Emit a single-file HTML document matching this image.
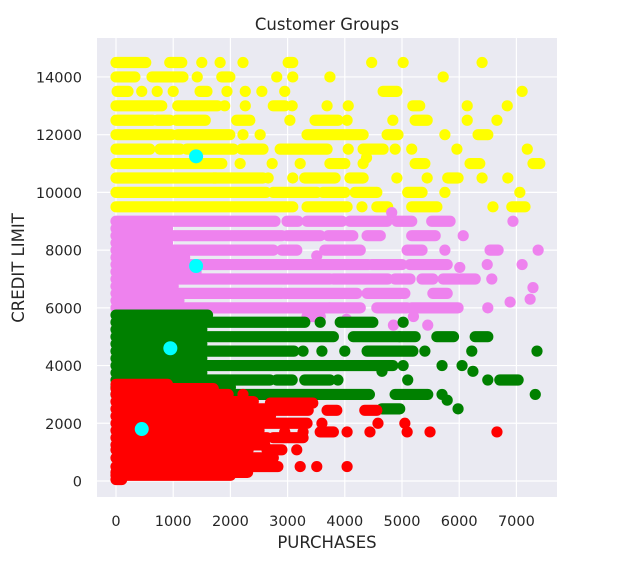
<!DOCTYPE html>
<html><head><meta charset="utf-8"><style>
html,body{margin:0;padding:0;background:#fff;}
svg text{font-family:"DejaVu Sans","Liberation Sans",sans-serif;fill:#262626;}
</style></head><body>
<svg id="chart" width="625" height="566">
<rect x="97" y="38" width="460" height="459" fill="#eaeaf2"/>
<g id="grid"></g>
<g id="marks"></g>
<g id="ticks"></g>
<text x="327" y="30" text-anchor="middle" font-size="16.5">Customer Groups</text>
<text x="327" y="548" text-anchor="middle" font-size="16.5">PURCHASES</text>
<text x="24" y="268" text-anchor="middle" font-size="16.5" transform="rotate(-90 24 268)">CREDIT LIMIT</text>
</svg>
<script>
const xTicks=[0,1000,2000,3000,4000,5000,6000,7000];
const yTicks=[0,2000,4000,6000,8000,10000,12000,14000];
// segments: [credit, purchaseMin, purchaseMax]; min==max is a single customer point
const yellowSegs=[
[14500,0,520],[14500,940,1150],[14500,1500,1500],[14500,1820,1820],[14500,2220,2220],[14500,3010,3090],[14500,4470,4470],[14500,5020,5020],[14500,6400,6400],
[14000,0,330],[14000,630,1170],[14000,1420,1420],[14000,1850,1990],[14000,2810,2810],[14000,3090,3090],[14000,3740,3740],[14000,5720,5720],
[13500,20,210],[13500,450,450],[13500,720,720],[13500,1000,1000],[13500,1470,1590],[13500,1940,1940],[13500,2260,2260],[13500,2550,2550],[13500,2950,2950],[13500,4670,4910],[13500,7100,7100],
[13000,0,800],[13000,1080,1770],[13000,1900,1900],[13000,2260,2260],[13000,2750,2950],[13000,3080,3080],[13000,3690,3690],[13000,4060,4060],[13000,5190,5310],[13000,6140,6140],[13000,6840,6840],
[12500,0,640],[12500,720,940],[12500,1060,1560],[12500,2110,2340],[12500,3040,3040],[12500,3480,3880],[12500,4040,4040],[12500,4840,4840],[12500,5230,5440],[12500,6140,6140],[12500,6660,6660],
[12000,0,970],[12000,1080,1990],[12000,2220,2220],[12000,2520,2520],[12000,3340,4320],[12000,4740,4930],[12000,5750,5750],[12000,6330,6500],
[11500,0,590],[11500,770,1120],[11500,1240,2050],[11500,2200,2570],[11500,2870,3690],[11500,4060,4060],[11500,4320,4670],[11500,4880,4880],[11500,5170,5170],[11500,5960,5960],[11500,7190,7190],
[11000,0,1850],[11000,2170,2170],[11000,2730,2730],[11000,3220,3220],[11000,3740,4000],[11000,4320,4320],[11200,4380,4380],[11000,5230,5400],[11000,6190,6360],[11000,7290,7410],
[10500,0,1750],[10500,1700,2570],[10500,2660,2660],[10500,3090,3090],[10500,3300,3830],[10500,4090,4320],[10500,4910,4910],[10500,5440,5440],[10500,5800,5980],[10500,6400,6400],[10500,6850,6850],
[10000,0,2620],[10000,2750,3510],[10000,3620,4000],[10000,4180,4560],[10000,5100,5350],[10000,5750,5750],[10000,7060,7060],
[9500,0,3090],[9500,3340,4040],[9500,4300,4300],[9500,4560,4750],[9500,5170,5610],[9500,6590,6590],[9500,6920,7150]];
const violetSegs=[
[9000,0,2780],[9000,2990,3180],[9000,3340,3950],[9000,4090,4740],[9300,4820,4820],[9000,4910,5170],[9000,5520,5840],[9000,6940,6940],
[8750,0,900],
[8500,0,2900],[8500,2990,3570],[8500,3710,4140],[8500,4390,4620],[8500,5170,5580],[8500,6070,6070],
[8250,0,900],
[8000,0,2750],[8000,2900,3160],[7800,3510,3510],[8000,3650,4270],[8000,5090,5350],[8000,5750,5750],[8000,6540,6680],[8000,7380,7380],
[7750,0,1200],
[7500,0,4410],[7500,4470,5000],[7500,5140,5790],[7400,6010,6010],[7500,6490,6490],[7500,7100,7100],
[7250,0,1400],
[7000,0,3740],[7000,3800,4750],[7000,4880,5140],[7000,5350,5540],[7000,5720,6280],[7000,6570,6570],[6700,7290,7290],
[6750,0,1000],
[6500,0,2900],[6500,2950,4210],[6500,4390,5050],[6500,5540,5790],
[6250,0,1100],
[6000,0,3720],[6000,3740,4270],[6000,4560,5090],[6000,5170,5980],[6000,6500,6500],[6200,6890,6890],[6300,7240,7240],
[5700,3340,3570],[5600,4030,4030],[5400,4850,4850],[5700,5200,5200],[5400,5450,5450]];
const greenSegs=[
[5750,0,1600],
[5500,0,3300],[5500,3570,3570],[5500,3920,4490],[5500,5020,5020],
[5250,0,1500],
[5000,0,3800],[5000,4150,4950],[5000,4960,5230],[5000,5610,5900],[5000,6280,6500],
[4750,0,1500],
[4500,0,3110],[4500,3270,3270],[4500,3600,3600],[4500,4000,4000],[4500,4390,5190],[4500,5400,5400],[4500,6220,6220],[4500,7360,7360],
[4250,0,1500],
[4000,0,4840],[4000,5020,5020],[4000,5700,5700],[4000,6050,6050],[3800,6240,6240],[3800,4650,4650],
[3750,0,1500],
[3500,0,2690],[3500,2810,3080],[3500,3300,3740],[3500,3880,3880],[3500,5100,5100],[3500,6500,6500],[3500,6710,7030],
[3250,0,2000],
[3000,0,4430],[3000,4880,5450],[3000,5700,5700],[2800,5790,5790],[3000,7330,7330],
[2500,4650,4960],[2500,5980,5980]];
const redSegs=[
[3350,0,900],[3200,0,1700],[3000,0,1960],[3000,2220,2220],[2750,0,2400],[2700,2700,3440],[2500,0,2600],[2450,2700,3360],[2450,3690,3860],[2450,4350,4560],
[2250,0,2700],[2000,0,3340],[2000,3600,3600],[2000,4580,4580],[2000,5050,5050],
[1750,0,2500],[1700,2950,2950],[1700,3270,3270],[1700,3570,3800],[1700,4040,4040],[1700,4440,4440],[1700,5090,5090],[1700,5490,5490],[1700,6660,6660],
[1500,0,2640],[1500,2750,3270],[1250,0,2600],[1080,0,2310],[1080,2640,2900],[1080,3160,3160],
[800,0,2750],[500,0,2830],[500,3220,3220],[500,3510,3510],[500,4040,4040],[300,0,2300],[200,0,2000],[50,0,100]];
const centroids=[[450,1800],[950,4600],[1400,7450],[1400,11250]];

const NS='http://www.w3.org/2000/svg';
const sx=v=>116+v*0.0572;
const sy=v=>481-v*0.02886;
const grid=document.getElementById('grid'),marks=document.getElementById('marks'),ticks=document.getElementById('ticks');
function mk(tag,attrs,parent){const e=document.createElementNS(NS,tag);for(const k in attrs)e.setAttribute(k,attrs[k]);parent.appendChild(e);return e;}
xTicks.forEach(t=>{
  const l=mk('line',{x1:sx(t),x2:sx(t),y1:38,y2:497,stroke:'#fff','stroke-width':1.2},grid);
  
  
  const tx=mk('text',{x:sx(t),y:526,'text-anchor':'middle','font-size':14.5},ticks);
  tx.textContent=t;
  
  
});
yTicks.forEach(t=>{
  const l=mk('line',{x1:97,x2:557,y1:sy(t),y2:sy(t),stroke:'#fff','stroke-width':1.2},grid);
  
  
  const tx=mk('text',{x:82,y:sy(t)+5.5,'text-anchor':'end','font-size':14.5},ticks);
  tx.textContent=t;
  
  
});
function group(segs,color,name){
  const g=mk('g',{},marks);
  
  
  segs.forEach(s=>{
    if(s[1]===s[2]){
      const c=mk('circle',{cx:sx(s[1]),cy:sy(s[0]),r:5.6,fill:color},g);
      
      
    }else{
      const l=mk('line',{x1:sx(s[1]),x2:sx(s[2]),y1:sy(s[0]),y2:sy(s[0]),stroke:color,'stroke-width':11.2,'stroke-linecap':'round'},g);
      
      
    }
  });
}
group(yellowSegs,'#ffff00','yellow');
group(violetSegs,'#ee82ee','violet');
group(greenSegs,'#008000','green');
group(redSegs,'#ff0000','red');
centroids.forEach(p=>{
  const c=mk('circle',{cx:sx(p[0]),cy:sy(p[1]),r:7,fill:'#00ffff'},marks);
  
  
});
</script>
</body></html>
